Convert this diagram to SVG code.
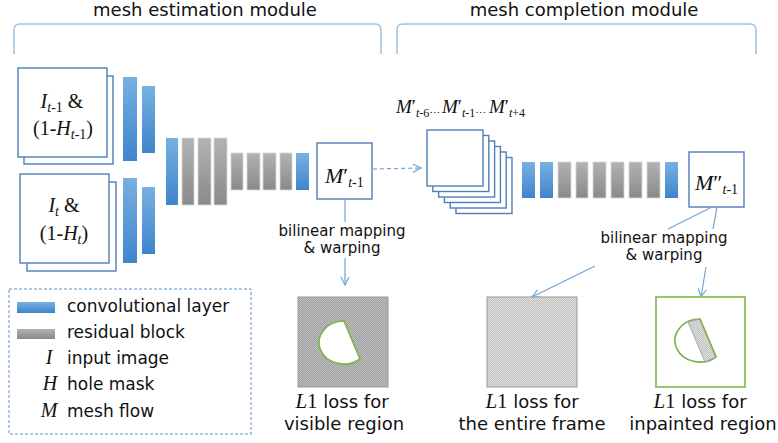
<svg xmlns="http://www.w3.org/2000/svg" width="778" height="443" viewBox="0 0 778 443">
<style>
.sans{font-family:"DejaVu Sans","Verdana",sans-serif;fill:#111}
.ser{font-family:"Liberation Serif","Times New Roman",serif;fill:#111}
.it{font-style:italic}
.box{fill:#fff;stroke:#4f7fb8;stroke-width:1.4}
.conv{fill:url(#gBlue)}
.res{fill:url(#gGray);stroke:#d6d6d6;stroke-width:0.8}
.brace{fill:none;stroke:#9cc2e5;stroke-width:1.5}
.ln{fill:none;stroke:#6fa3d8;stroke-width:1.2}
</style>
<defs>
<linearGradient id="gBlue" x1="0" y1="0" x2="0" y2="1"><stop offset="0" stop-color="#78b0e2"/><stop offset="1" stop-color="#3e85cb"/></linearGradient>
<linearGradient id="gGray" x1="0" y1="0" x2="0" y2="1"><stop offset="0" stop-color="#b2b2b2"/><stop offset="1" stop-color="#8a8a8a"/></linearGradient>
<pattern id="pDark" width="2" height="2" patternUnits="userSpaceOnUse"><rect width="2" height="2" fill="#a2a2a2"/><rect width="1" height="1" fill="#bcbcbc"/><rect x="1" y="1" width="1" height="1" fill="#bcbcbc"/></pattern>
<pattern id="pLight" width="2" height="2" patternUnits="userSpaceOnUse"><rect width="2" height="2" fill="#c6c6c6"/><rect width="1" height="1" fill="#dadada"/><rect x="1" y="1" width="1" height="1" fill="#dadada"/></pattern>
<marker id="arr" viewBox="0 0 10 10" refX="9" refY="5" markerWidth="10" markerHeight="10" markerUnits="userSpaceOnUse" orient="auto"><path d="M1,1 L9,5 L1,9" fill="none" stroke="#6fa3d8" stroke-width="1.2"/></marker>
</defs>
<rect width="778" height="443" fill="#fff"/>

<g id="module-labels">
<text class="sans" x="205" y="16" font-size="18" text-anchor="middle">mesh estimation module</text>
<path class="brace" d="M14,54 L14,30 Q14,24 20,24 L375,24 Q381,24 381,30 L381,54"/>
<text class="sans" x="584" y="16" font-size="18" text-anchor="middle">mesh completion module</text>
<path class="brace" d="M397,54 L397,30 Q397,24 403,24 L750,24 Q756,24 756,30 L756,54"/>
</g>

<g id="input-prev">
<rect class="box" x="24" y="76" width="89" height="88"/>
<rect class="box" x="18" y="68" width="89" height="89"/>
<text class="ser" x="62" y="108" font-size="20" text-anchor="middle"><tspan class="it">I</tspan><tspan font-size="14" class="it" dy="4">t</tspan><tspan font-size="14">-1</tspan><tspan dy="-4"> &amp;</tspan></text>
<text class="ser" x="63" y="135" font-size="20" text-anchor="middle">(1-<tspan class="it">H</tspan><tspan font-size="14" class="it" dy="4">t</tspan><tspan font-size="14">-1</tspan><tspan dy="-4">)</tspan></text>
</g>

<g id="input-cur">
<rect class="box" x="27" y="182" width="89" height="89"/>
<rect class="box" x="20" y="174" width="89" height="89"/>
<text class="ser" x="64" y="212" font-size="20" text-anchor="middle"><tspan class="it">I</tspan><tspan font-size="14" class="it" dy="4">t</tspan><tspan dy="-4"> &amp;</tspan></text>
<text class="ser" x="64" y="240" font-size="20" text-anchor="middle">(1-<tspan class="it">H</tspan><tspan font-size="14" class="it" dy="4">t</tspan><tspan dy="-4">)</tspan></text>
</g>

<g id="estimation-net">
<rect class="conv" x="123" y="77" width="14" height="84"/>
<rect class="conv" x="142" y="86" width="13" height="67"/>
<rect class="conv" x="123" y="178" width="14" height="85"/>
<rect class="conv" x="142" y="187" width="13" height="67"/>
<rect class="conv" x="166" y="138" width="12" height="67"/>
<rect class="res" x="182" y="138" width="12" height="67"/>
<rect class="res" x="198" y="138" width="13" height="67"/>
<rect class="res" x="214" y="138" width="13" height="67"/>
<rect class="res" x="231" y="153" width="12" height="37"/>
<rect class="res" x="247" y="153" width="13" height="37"/>
<rect class="res" x="263" y="153" width="13" height="37"/>
<rect class="res" x="280" y="153" width="12" height="37"/>
<rect class="conv" x="296" y="153" width="13" height="37"/>
</g>

<g id="mesh-prime">
<rect class="box" x="317" y="143" width="55" height="56"/>
<text class="ser" x="325" y="183" font-size="22"><tspan class="it">M</tspan><tspan>′</tspan><tspan dy="4" font-size="14" class="it">t</tspan><tspan font-size="14">-1</tspan></text>
</g>

<g id="mesh-stack">
<text class="ser" x="396" y="113" font-size="19"><tspan class="it">M</tspan><tspan>′</tspan><tspan dy="4" font-size="12" class="it">t</tspan><tspan font-size="12">-6</tspan><tspan dy="-4" font-size="11">…</tspan></text>
<text class="ser" x="442" y="113" font-size="19"><tspan class="it">M</tspan><tspan>′</tspan><tspan dy="4" font-size="12" class="it">t</tspan><tspan font-size="12">-1</tspan><tspan dy="-4" font-size="11">…</tspan></text>
<text class="ser" x="489" y="113" font-size="19"><tspan class="it">M</tspan><tspan>′</tspan><tspan dy="4" font-size="12" class="it">t</tspan><tspan font-size="12">+4</tspan></text>
<rect class="box" x="456" y="157.5" width="56" height="56"/>
<rect class="box" x="450.2" y="152" width="56" height="56"/>
<rect class="box" x="444.4" y="146.5" width="56" height="56"/>
<rect class="box" x="438.6" y="141" width="56" height="56"/>
<rect class="box" x="432.8" y="135.5" width="56" height="56"/>
<rect class="box" x="427" y="130" width="56" height="56"/>
</g>

<g id="completion-net">
<rect class="conv" x="522" y="162" width="13" height="36"/>
<rect class="conv" x="540" y="162" width="13" height="36"/>
<rect class="res" x="558" y="162" width="13" height="36"/>
<rect class="res" x="576" y="162" width="12" height="36"/>
<rect class="res" x="593" y="162" width="13" height="36"/>
<rect class="res" x="611" y="162" width="13" height="36"/>
<rect class="res" x="629" y="162" width="13" height="36"/>
<rect class="res" x="647" y="162" width="13" height="36"/>
<rect class="conv" x="665" y="162" width="13" height="36"/>
</g>

<g id="mesh-dprime">
<rect class="box" x="689" y="152" width="55" height="55"/>
<text class="ser" x="695" y="190" font-size="22"><tspan class="it">M</tspan><tspan>″</tspan><tspan dy="4" font-size="14" class="it">t</tspan><tspan font-size="14">-1</tspan></text>
</g>

<g id="connectors">
<line class="ln" x1="373" y1="169" x2="421" y2="168" stroke-dasharray="4 3" marker-end="url(#arr)"/>
<line class="ln" x1="345" y1="199" x2="345" y2="222"/>
<line class="ln" x1="345" y1="258" x2="345" y2="285" marker-end="url(#arr)"/>
<line class="ln" x1="712" y1="207" x2="668" y2="229"/>
<line class="ln" x1="595" y1="266" x2="532" y2="297" marker-end="url(#arr)"/>
<line class="ln" x1="717" y1="207" x2="713" y2="229"/>
<line class="ln" x1="706" y1="267" x2="701" y2="297" marker-end="url(#arr)"/>
<text class="sans" x="342" y="236" font-size="15" text-anchor="middle">bilinear mapping</text>
<text class="sans" x="342" y="253" font-size="15" text-anchor="middle">&amp; warping</text>
<text class="sans" x="664" y="243" font-size="15" text-anchor="middle">bilinear mapping</text>
<text class="sans" x="664" y="260" font-size="15" text-anchor="middle">&amp; warping</text>
</g>

<g id="loss-visible">
<rect x="298" y="297" width="90" height="90" fill="url(#pDark)" stroke="#999" stroke-width="1"/>
<path d="M344,321 L360,359 A25 21.5 0 1 1 344,321 Z" fill="#fff" stroke="#7cb24a" stroke-width="1.6"/>
<text class="sans" x="342" y="408" font-size="18" text-anchor="middle"><tspan class="ser it" font-size="21">L</tspan><tspan class="ser" font-size="21">1</tspan> loss for</text>
<text class="sans" x="344" y="430" font-size="18" text-anchor="middle">visible region</text>
</g>

<g id="loss-frame">
<rect x="487" y="297" width="90" height="90" fill="url(#pLight)" stroke="#999" stroke-width="1"/>
<text class="sans" x="532" y="408" font-size="18" text-anchor="middle"><tspan class="ser it" font-size="21">L</tspan><tspan class="ser" font-size="21">1</tspan> loss for</text>
<text class="sans" x="532" y="430" font-size="18" text-anchor="middle">the entire frame</text>
</g>

<g id="loss-inpainted">
<rect x="656" y="297" width="89" height="90" fill="#fff" stroke="#8cbf5a" stroke-width="1.8"/>
<path d="M700,319 L716,357 A25 21.5 0 1 1 700,319 Z" fill="none" stroke="#7cb24a" stroke-width="1.6"/>
<polygon points="688,322 700,319 716,357 705,362" fill="url(#pLight)" stroke="#999" stroke-width="0.8"/>
<line x1="700" y1="319" x2="716" y2="357" stroke="#7cb24a" stroke-width="1.4"/>
<text class="sans" x="700" y="408" font-size="18" text-anchor="middle"><tspan class="ser it" font-size="21">L</tspan><tspan class="ser" font-size="21">1</tspan> loss for</text>
<text class="sans" x="703" y="430" font-size="18" text-anchor="middle">inpainted region</text>
</g>

<g id="legend">
<rect x="9" y="289" width="242" height="145" fill="none" stroke="#5b8fc9" stroke-width="1" stroke-dasharray="3 2"/>
<rect x="17" y="302" width="38" height="11" fill="url(#gBlue)"/>
<rect x="17" y="329" width="38" height="10" fill="url(#gGray)"/>
<text class="sans" x="67" y="312" font-size="17">convolutional layer</text>
<text class="sans" x="67" y="338" font-size="17">residual block</text>
<text class="ser it" x="49" y="364" font-size="20" text-anchor="middle">I</text>
<text class="sans" x="67" y="364" font-size="17">input image</text>
<text class="ser it" x="50" y="390" font-size="20" text-anchor="middle">H</text>
<text class="sans" x="67" y="390" font-size="17">hole mask</text>
<text class="ser it" x="49" y="417" font-size="20" text-anchor="middle">M</text>
<text class="sans" x="67" y="417" font-size="17">mesh flow</text>
</g>
</svg>
